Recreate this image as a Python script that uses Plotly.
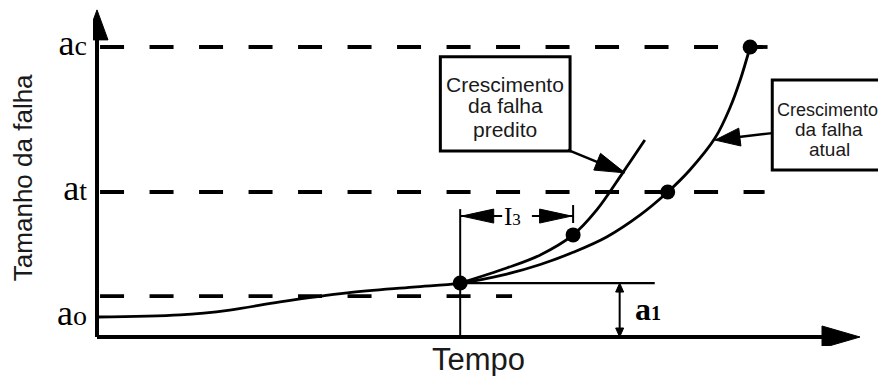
import math
import plotly.graph_objects as go

# Crack growth versus time (arbitrary units)
t_actual = [0.00, 1.09, 1.74, 2.40, 3.28, 4.14, 4.76, 5.37, 5.81, 6.24, 6.68,
            7.12, 7.48, 7.77, 8.10, 8.30, 8.43, 8.56]
a_actual = [0.69, 0.76, 0.93, 1.21, 1.52, 1.72, 1.86, 2.17, 2.50, 2.92, 3.45,
            4.21, 5.00, 5.76, 6.86, 7.93, 8.86, 10.00]

t_pred = [4.76, 5.37, 5.81, 6.24, 6.55, 6.89, 7.18]
a_pred = [1.86, 2.38, 2.83, 3.52, 4.38, 5.66, 6.79]

# Marked states: inspection, predicted, threshold reached, critical reached
pts_t = [4.76, 6.24, 7.48, 8.56]
pts_a = [1.86, 3.52, 5.00, 10.00]

# Crack size levels
a_c = 10.0
a_t = 5.0
a_0 = 0.69
a_d = 1.41
a_1 = 1.86

y_tick_vals = [a_c, a_t, a_0]
y_tick_text = ["a<span style='font-size:28px'>c</span>",
               "a<span style='font-size:28px'>t</span>",
               "a<span style='font-size:28px'>o</span>"]

# Time marks
t_insp = 4.76
t_i3_end = 6.24
t_a1 = 6.85
t_end = 10.0
a_top = 11.28

# pixel scale of one unit on each axis
PX_T = 76.3
PX_A = 29.0

BLACK = "#000000"
TXT = "#1a1a1a"
SANS = "Liberation Sans, Arial, sans-serif"
SERIF = "Liberation Serif, Times New Roman, serif"

fig = go.Figure()

# Reference levels (dashed)
for lvl, t_stop in [(a_c, 8.82), (a_t, 8.75), (a_d, 5.44)]:
    fig.add_trace(go.Scatter(
        x=[0.04, t_stop], y=[lvl, lvl], mode="lines",
        line=dict(color=BLACK, width=3.8, dash="24px,25.5px"),
        hoverinfo="skip", showlegend=False))

# Growth curves
fig.add_trace(go.Scatter(
    x=t_actual, y=a_actual, mode="lines", line_shape="spline",
    line=dict(color=BLACK, width=2.8), name="atual", showlegend=False))
fig.add_trace(go.Scatter(
    x=t_pred, y=a_pred, mode="lines", line_shape="spline",
    line=dict(color=BLACK, width=2.8), name="predito", showlegend=False))
fig.add_trace(go.Scatter(
    x=pts_t, y=pts_a, mode="markers",
    marker=dict(color=BLACK, size=15), showlegend=False))


def line(x0, y0, x1, y1, width=2.0):
    return dict(type="line", xref="x", yref="y", x0=x0, y0=y0, x1=x1, y1=y1,
                line=dict(color=BLACK, width=width))


def head(tip, tail, length, half):
    """Filled triangular arrow head, sized in pixels, placed in data units."""
    dx = (tip[0] - tail[0]) * PX_T
    dy = (tip[1] - tail[1]) * PX_A
    n = math.hypot(dx, dy)
    ux, uy = dx / n, dy / n
    bx = tip[0] * PX_T - ux * length
    by = tip[1] * PX_A - uy * length
    p1 = ((bx - uy * half) / PX_T, (by + ux * half) / PX_A)
    p2 = ((bx + uy * half) / PX_T, (by - ux * half) / PX_A)
    path = (f"M{tip[0]},{tip[1]} L{p1[0]},{p1[1]} "
            f"L{p2[0]},{p2[1]} Z")
    return dict(type="path", xref="x", yref="y", path=path,
                fillcolor=BLACK, line=dict(color=BLACK, width=1))


shapes = []
# axes with arrow heads
shapes.append(line(0, 0, t_end - 30 / PX_T, 0, width=4))
shapes.append(head((t_end, 0), (0, 0), 38, 11))
shapes.append(line(0, 0, 0, a_top - 25 / PX_A, width=4))
shapes.append(head((0, a_top), (0, 0), 30, 11))

# size at inspection and its offset above the time axis
shapes.append(line(t_insp, a_1, 7.31, a_1, width=2.2))
shapes.append(line(t_insp, 0, t_insp, 4.41, width=2.0))
shapes.append(line(t_a1, 0.2, t_a1, a_1 - 0.2, width=2.0))
shapes.append(head((t_a1, a_1), (t_a1, 0), 9, 4))
shapes.append(head((t_a1, 0), (t_a1, a_1), 9, 4))

# interval I3
y_i3 = 4.17
shapes.append(line(t_i3_end, 3.93, t_i3_end, 4.55, width=2.0))
shapes.append(line(t_insp, y_i3, 5.31, y_i3, width=2.0))
shapes.append(head((t_insp + 0.02, y_i3), (5.31, y_i3), 32, 7))
shapes.append(line(5.70, y_i3, t_i3_end, y_i3, width=2.0))
shapes.append(head((t_i3_end - 0.02, y_i3), (5.70, y_i3), 32, 7))

# callout boxes
shapes.append(dict(type="rect", xref="x", yref="y", x0=4.50, x1=6.20,
                   y0=6.41, y1=9.66, line=dict(color=BLACK, width=3),
                   fillcolor="white", layer="below"))
shapes.append(dict(type="rect", xref="x", yref="y", x0=8.85, x1=10.6,
                   y0=5.76, y1=8.86, line=dict(color=BLACK, width=3),
                   fillcolor="white", layer="below"))
# callout arrows
shapes.append(line(6.17, 6.45, 6.60, 5.99, width=2.5))
shapes.append(head((6.92, 5.66), (6.17, 6.45), 30, 9))
shapes.append(line(8.85, 7.03, 8.30, 6.86, width=2.5))
shapes.append(head((8.10, 6.79), (8.85, 7.03), 25, 9))

annotations = []


def text(x, y, s, size, family=SANS, color=TXT):
    annotations.append(dict(x=x, y=y, xref="x", yref="y", text=s,
                            xanchor="center", yanchor="middle",
                            showarrow=False,
                            font=dict(size=size, family=family, color=color)))


for s, yy in [("Crescimento", 8.69), ("da falha", 7.97), ("predito", 7.17)]:
    text(5.35, yy, s, 21)
text(9.57, 7.83, "Crescimento", 18)
text(9.60, 7.14, "da falha", 19)
text(9.60, 6.45, "atual", 19)

text(5.44, y_i3, "I<span style='font-size:17px'>3</span>", 25,
     family=SERIF, color=BLACK)
text(7.22, 0.97, "<b>a<span style='font-size:20px'>1</span></b>", 32,
     family=SERIF, color=BLACK)

# axis titles
annotations.append(dict(x=5.0, xref="x", y=-0.0376, yref="paper",
                        xanchor="center", yanchor="middle",
                        text="Tempo", showarrow=False,
                        font=dict(size=31, family=SANS, color=TXT)))
annotations.append(dict(x=-0.0892, xref="paper", y=0.488, yref="paper",
                        xanchor="center", yanchor="middle",
                        text="Tamanho da falha", showarrow=False,
                        textangle=-90,
                        font=dict(size=26, family=SANS, color=TXT)))

fig.update_layout(
    width=878, height=376,
    margin=dict(l=93, r=0, t=0, b=30),
    paper_bgcolor="white", plot_bgcolor="white",
    showlegend=False,
    shapes=shapes, annotations=annotations,
    xaxis=dict(range=[-4 / PX_T, 781 / PX_T], showgrid=False, zeroline=False,
               showline=False, showticklabels=False, ticks=""),
    yaxis=dict(range=[-9 / PX_A, 337 / PX_A], showgrid=False, zeroline=False,
               showline=False, ticks="", tickvals=y_tick_vals,
               ticktext=y_tick_text, ticklabelshift=-5, ticklabelstandoff=5,
               tickfont=dict(size=36, family=SERIF, color=BLACK)),
)

fig.write_html("out.html")
